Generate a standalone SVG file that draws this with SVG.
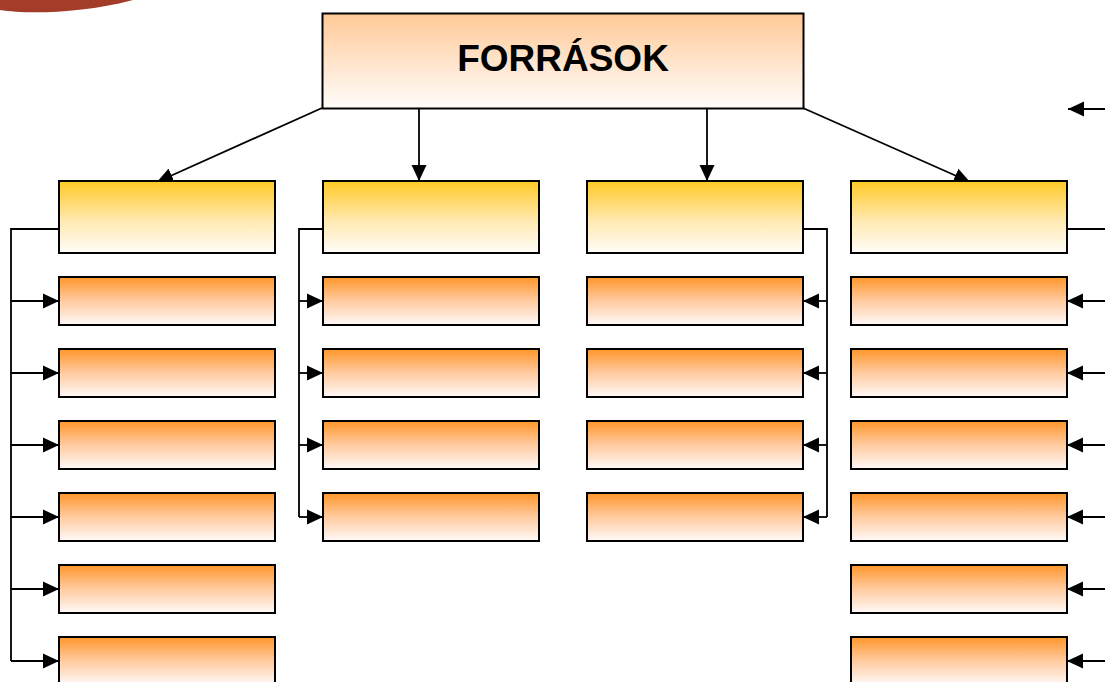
<svg xmlns="http://www.w3.org/2000/svg" width="1105" height="682" viewBox="0 0 1105 682">
<defs>
<linearGradient id="gTop" x1="0" y1="0" x2="0" y2="1">
<stop offset="0" stop-color="#FFC996"/>
<stop offset="0.55" stop-color="#FFE6CF"/>
<stop offset="1" stop-color="#FFFDFB"/>
</linearGradient>
<linearGradient id="gYel" x1="0" y1="0" x2="0" y2="1">
<stop offset="0" stop-color="#FFC925"/>
<stop offset="0.55" stop-color="#FFE9B0"/>
<stop offset="1" stop-color="#FFFDF9"/>
</linearGradient>
<linearGradient id="gOra" x1="0" y1="0" x2="0" y2="1">
<stop offset="0" stop-color="#FF962A"/>
<stop offset="0.5" stop-color="#FFCBA0"/>
<stop offset="1" stop-color="#FFFAF8"/>
</linearGradient>
<marker id="ah" markerWidth="17" markerHeight="16" refX="16" refY="8" orient="auto" markerUnits="userSpaceOnUse">
<path d="M0,0.5 L16,8 L0,15.5 z" fill="#000"/>
</marker>
</defs>
<style>
.box{stroke:#000;stroke-width:2}
.top{fill:url(#gTop)}
.yel{fill:url(#gYel)}
.ora{fill:url(#gOra)}
.c{fill:none;stroke:#000;stroke-width:1.8}
.a{fill:none;stroke:#000;stroke-width:1.8;marker-end:url(#ah)}
.t{font-family:"Liberation Sans",Arial,sans-serif;font-weight:bold;font-size:37px;fill:#000}
</style>
<rect width="1105" height="682" fill="#fff"/>
<path id="corner" d="M0,0 L0,10 C25,14 80,14 133,0 Z" fill="#A33D2A"/>

<g id="connectors">
<line class="a" x1="322" y1="108" x2="157" y2="182"/>
<line class="a" x1="419" y1="108" x2="419" y2="181"/>
<line class="a" x1="707" y1="108" x2="707" y2="181"/>
<line class="a" x1="803" y1="108" x2="970" y2="182"/>
<line class="a" x1="1105" y1="109" x2="1068" y2="109"/>
<!-- column 1 -->
<polyline class="c" points="59,229 11,229 11,661"/>
<line class="a" x1="11" y1="301" x2="59" y2="301"/>
<line class="a" x1="11" y1="373" x2="59" y2="373"/>
<line class="a" x1="11" y1="445" x2="59" y2="445"/>
<line class="a" x1="11" y1="517" x2="59" y2="517"/>
<line class="a" x1="11" y1="589" x2="59" y2="589"/>
<line class="a" x1="11" y1="661" x2="59" y2="661"/>
<!-- column 2 -->
<polyline class="c" points="323,229 299,229 299,517"/>
<line class="a" x1="299" y1="301" x2="323" y2="301"/>
<line class="a" x1="299" y1="373" x2="323" y2="373"/>
<line class="a" x1="299" y1="445" x2="323" y2="445"/>
<line class="a" x1="299" y1="517" x2="323" y2="517"/>
<!-- column 3 -->
<polyline class="c" points="803,229 827,229 827,517"/>
<line class="a" x1="827" y1="301" x2="803" y2="301"/>
<line class="a" x1="827" y1="373" x2="803" y2="373"/>
<line class="a" x1="827" y1="445" x2="803" y2="445"/>
<line class="a" x1="827" y1="517" x2="803" y2="517"/>
<!-- column 4 -->
<line class="c" x1="1067" y1="229" x2="1105" y2="229"/>
<line class="a" x1="1105" y1="301" x2="1067" y2="301"/>
<line class="a" x1="1105" y1="373" x2="1067" y2="373"/>
<line class="a" x1="1105" y1="445" x2="1067" y2="445"/>
<line class="a" x1="1105" y1="517" x2="1067" y2="517"/>
<line class="a" x1="1105" y1="589" x2="1067" y2="589"/>
<line class="a" x1="1105" y1="661" x2="1067" y2="661"/>
</g>

<g id="forrasok">
<rect class="box top" x="322.5" y="13.5" width="481" height="95"/>
<text class="t" x="563" y="71" text-anchor="middle">FORRÁSOK</text>
</g>

<g id="cat1"><rect class="box yel" x="59" y="181" width="216" height="72"/></g>
<g id="cat2"><rect class="box yel" x="323" y="181" width="216" height="72"/></g>
<g id="cat3"><rect class="box yel" x="587" y="181" width="216" height="72"/></g>
<g id="cat4"><rect class="box yel" x="851" y="181" width="216" height="72"/></g>

<g id="c1r1"><rect class="box ora" x="59" y="277" width="216" height="48"/></g>
<g id="c1r2"><rect class="box ora" x="59" y="349" width="216" height="48"/></g>
<g id="c1r3"><rect class="box ora" x="59" y="421" width="216" height="48"/></g>
<g id="c1r4"><rect class="box ora" x="59" y="493" width="216" height="48"/></g>
<g id="c1r5"><rect class="box ora" x="59" y="565" width="216" height="48"/></g>
<g id="c1r6"><rect class="box ora" x="59" y="637" width="216" height="48"/></g>

<g id="c2r1"><rect class="box ora" x="323" y="277" width="216" height="48"/></g>
<g id="c2r2"><rect class="box ora" x="323" y="349" width="216" height="48"/></g>
<g id="c2r3"><rect class="box ora" x="323" y="421" width="216" height="48"/></g>
<g id="c2r4"><rect class="box ora" x="323" y="493" width="216" height="48"/></g>

<g id="c3r1"><rect class="box ora" x="587" y="277" width="216" height="48"/></g>
<g id="c3r2"><rect class="box ora" x="587" y="349" width="216" height="48"/></g>
<g id="c3r3"><rect class="box ora" x="587" y="421" width="216" height="48"/></g>
<g id="c3r4"><rect class="box ora" x="587" y="493" width="216" height="48"/></g>

<g id="c4r1"><rect class="box ora" x="851" y="277" width="216" height="48"/></g>
<g id="c4r2"><rect class="box ora" x="851" y="349" width="216" height="48"/></g>
<g id="c4r3"><rect class="box ora" x="851" y="421" width="216" height="48"/></g>
<g id="c4r4"><rect class="box ora" x="851" y="493" width="216" height="48"/></g>
<g id="c4r5"><rect class="box ora" x="851" y="565" width="216" height="48"/></g>
<g id="c4r6"><rect class="box ora" x="851" y="637" width="216" height="48"/></g>
</svg>
